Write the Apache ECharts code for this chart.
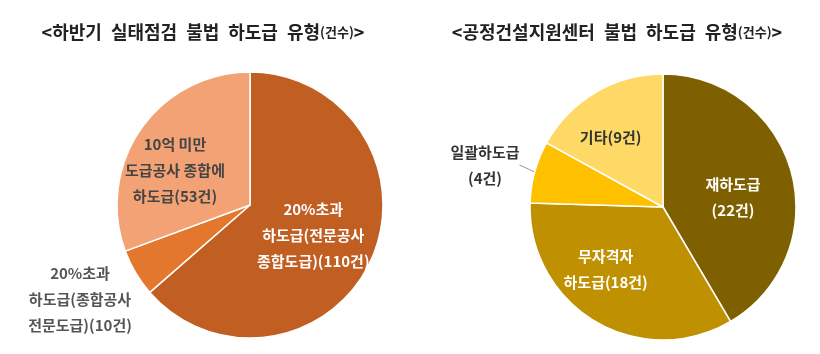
<!DOCTYPE html>
<html><head><meta charset="utf-8">
<script src="https://cdn.jsdelivr.net/npm/echarts@6/dist/echarts.min.js"></script>
<style>html,body{margin:0;padding:0;background:#fff}#c{width:820px;height:354px}</style>
</head><body><div id="c"></div>
<script>
const leftNames = ['20%초과\n하도급(전문공사\n종합도급)(110건)', '20%초과\n하도급(종합공사\n전문도급)(10건)', '10억 미만\n도급공사 종합에\n하도급(53건)'];
const leftValues = [110, 10, 53];
const leftColors = ['#C15E22', '#E3772D', '#F2A274'];
const rightNames = ['재하도급\n(22건)', '무자격자\n하도급(18건)', '일괄하도급\n(4건)', '기타(9건)'];
const rightValues = [22, 18, 4, 9];
const rightColors = ['#7F6000', '#BF9000', '#FFC000', '#FFD966'];
const leftTitle = '<하반기\u2002실태점검\u2002불법\u2002하도급\u2002유형{s|(건수)}>';
const rightTitle = '<공정건설지원센터\u2002불법\u2002하도급\u2002유형{s|(건수)}>';

const font = "'Noto Sans CJK KR', 'Noto Sans', sans-serif";
const chart = echarts.init(document.getElementById('c'), null, {renderer: 'canvas'});

function lbl(color, pos) {
  return { show: true, position: pos, color: color, fontFamily: font, fontSize: 15, fontWeight: 'bold', lineHeight: 26, align: 'center', overflow: 'none' };
}

const leftLabels = [lbl('#fff', 'inside'), lbl('#555', 'outside'), lbl('#444', 'inside')];
const rightLabels = [lbl('#fff', 'inside'), lbl('#fff', 'inside'), lbl('#333', 'outside'), lbl('#333', 'inside')];
const leftShift = [[0, 2], [0, 0], [-18, 5]];
const rightShift = [[3, 9], [-22, 2], [0, 0], [-17, -10]];

const titleStyle = { fontFamily: font, fontSize: 18, fontWeight: 'bold', color: '#222',
  rich: { s: { fontFamily: font, fontSize: 13, fontWeight: 'bold', color: '#222' } } };

chart.setOption({
  animation: false,
  title: [
    { text: leftTitle, left: 198, top: 18, textAlign: 'center', textStyle: titleStyle },
    { text: rightTitle, left: 612, top: 18, textAlign: 'center', textStyle: titleStyle }
  ],
  series: [
    {
      type: 'pie', center: [250, 205], radius: 133, startAngle: 90, clockwise: true,
      itemStyle: { borderColor: '#fff', borderWidth: 1.5 },
      labelLine: { show: false },
      labelLayout: function (p) {
        if (p.dataIndex === 1) return { x: 80, y: 299, align: 'center', verticalAlign: 'middle' };
        const s = leftShift[p.dataIndex];
        return { dx: s[0], dy: s[1] };
      },
      data: leftValues.map((v, i) => ({ value: v, name: leftNames[i], itemStyle: { color: leftColors[i] }, label: leftLabels[i] })),
      label: { formatter: '{b}' }
    },
    {
      type: 'pie', center: [663, 207], radius: 133, startAngle: 90, clockwise: true,
      itemStyle: { borderColor: '#fff', borderWidth: 1.5 },
      labelLayout: function (p) {
        if (p.dataIndex === 2) return { x: 485, y: 165, align: 'center', verticalAlign: 'middle' };
        const s = rightShift[p.dataIndex];
        return { dx: s[0], dy: s[1] };
      },
      data: rightValues.map((v, i) => ({ value: v, name: rightNames[i], itemStyle: { color: rightColors[i] }, label: rightLabels[i],
        labelLine: i === 2 ? { show: true, length: 3, length2: 0, lineStyle: { color: '#999', width: 1 } } : { show: false } })),
      label: { formatter: '{b}' }
    }
  ]
});
</script></body></html>
